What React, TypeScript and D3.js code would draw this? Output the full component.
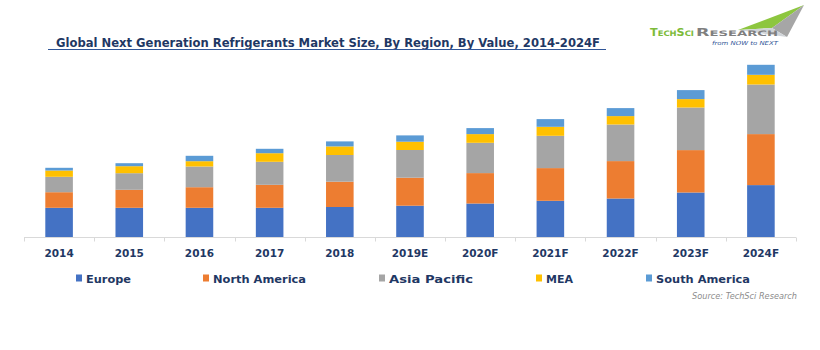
import React from "react";
import * as d3 from "d3";

const categories = ["2014", "2015", "2016", "2017", "2018", "2019E", "2020F", "2021F", "2022F", "2023F", "2024F"];
const seriesNames = ["Europe", "North America", "Asia Pacific", "MEA", "South America"];
const europe = [29.7, 29.7, 29.7, 29.7, 30.5, 31.8, 34, 36.7, 39, 45, 52.4];
const northAmerica = [15.6, 18, 20.6, 23, 25.3, 28, 30.4, 32.7, 37.4, 42.4, 51];
const asiaPacific = [15.4, 16.6, 20.7, 23, 26.7, 27.7, 30.3, 32.3, 36.6, 42.6, 49.6];
const mea = [6.3, 7, 5.3, 8.6, 8.6, 8.3, 8.7, 9, 8.4, 8.4, 9.7];
const southAmerica = [2.7, 3, 5.4, 4.4, 5, 6.3, 6, 7.7, 8, 9, 10];
const colors = ["#4472C4", "#ED7D31", "#A5A5A5", "#FFC000", "#5B9BD5"];

const title = "Global Next Generation Refrigerants Market Size, By Region, By Value, 2014-2024F";
const source = "Source: TechSci Research";

const legendX = [76, 203, 379, 536, 646];
const legendW = [45, 93, 84, 27, 94];

export default function App() {
  const W = 820, H = 350;
  const allSeries = [europe, northAmerica, asiaPacific, mea, southAmerica];
  const rows = categories.map((c, i) => {
    const r: any = { cat: c };
    seriesNames.forEach((s, j) => (r[s] = allSeries[j][i]));
    return r;
  });
  const stacked = d3.stack<any>().keys(seriesNames)(rows);
  const x = d3.scaleBand<string>().domain(categories).range([24, 796]).paddingInner(0.607).paddingOuter(0.3035);
  const y = d3.scaleLinear().domain([0, 180]).range([237.5, 57.5]);
  const step = x.step();
  const navy = "#1F3864";
  const font = "'DejaVu Sans', Verdana, sans-serif";

  return (
    <svg width={W} height={H} style={{ position: "absolute", left: 0, top: 0, background: "#fff" }}>
      {/* title */}
      <text x={56} y={46.5} fontFamily={font} fontWeight="bold" fontSize={11.5} fill={navy}
        textLength={544} lengthAdjust="spacingAndGlyphs">{title}</text>
      <line x1={48} x2={606} y1={49.5} y2={49.5} stroke="#2F5597" strokeWidth={1.2} />

      {/* logo */}
      <polygon points="738,30 804,5 772,28" fill="#8DC63F" />
      <polygon points="772,28 804,5 787,37" fill="#A6A6A6" />
      <polygon points="738,30 772,28 787,37" fill="#D0D4D8" />
      <text x={650} y={36} fontFamily={font} fontWeight="bold" fill="#7DBB3A"
        textLength={44} lengthAdjust="spacingAndGlyphs">
        <tspan fontSize={10}>T</tspan><tspan fontSize={7.5}>ECH</tspan><tspan fontSize={10}>S</tspan><tspan fontSize={7.5}>CI</tspan>
      </text>
      <text x={696} y={36} fontFamily={font} fontWeight="bold" fill="#7F7F7F"
        textLength={82} lengthAdjust="spacingAndGlyphs">
        <tspan fontSize={10}>R</tspan><tspan fontSize={7.5}>ESEARCH</tspan>
      </text>
      <text x={712} y={44.5} fontFamily={font} fontStyle="italic" fontSize={5.5} fill="#2F5597"
        textLength={66} lengthAdjust="spacingAndGlyphs">from NOW to NEXT</text>

      {/* bars */}
      {stacked.map((s, j) => (
        <g key={s.key} fill={colors[j]}>
          {s.map((d, i) => (
            <rect key={i} x={x(categories[i])} width={x.bandwidth()} y={y(d[1])} height={y(d[0]) - y(d[1])} />
          ))}
        </g>
      ))}

      {/* axis */}
      <line x1={24} x2={796} y1={237.5} y2={237.5} stroke="#D9D9D9" />
      {d3.range(categories.length + 1).map((i) => {
        const tx = Math.round(24 + i * step) + 0.5;
        return <line key={i} x1={tx} x2={tx} y1={237.5} y2={241.5} stroke="#D9D9D9" />;
      })}
      {categories.map((c) => (
        <text key={c} x={(x(c) as number) + x.bandwidth() / 2} y={256.5} textAnchor="middle"
          fontFamily={font} fontSize={10.5} fill={navy} fontWeight="bold">{c}</text>
      ))}

      {/* legend */}
      {seriesNames.map((s, j) => (
        <g key={s}>
          <rect x={legendX[j]} y={274.5} width={6} height={7} fill={colors[j]} />
          <text x={legendX[j] + 10} y={282.5} fontFamily={font} fontWeight="bold" fontSize={11} fill={navy}
            textLength={legendW[j]} lengthAdjust="spacingAndGlyphs">{s}</text>
        </g>
      ))}

      <text x={692} y={299} fontFamily={font} fontStyle="italic" fontSize={8} fill="#8C8C8C"
        textLength={105} lengthAdjust="spacingAndGlyphs">{source}</text>
    </svg>
  );
}
